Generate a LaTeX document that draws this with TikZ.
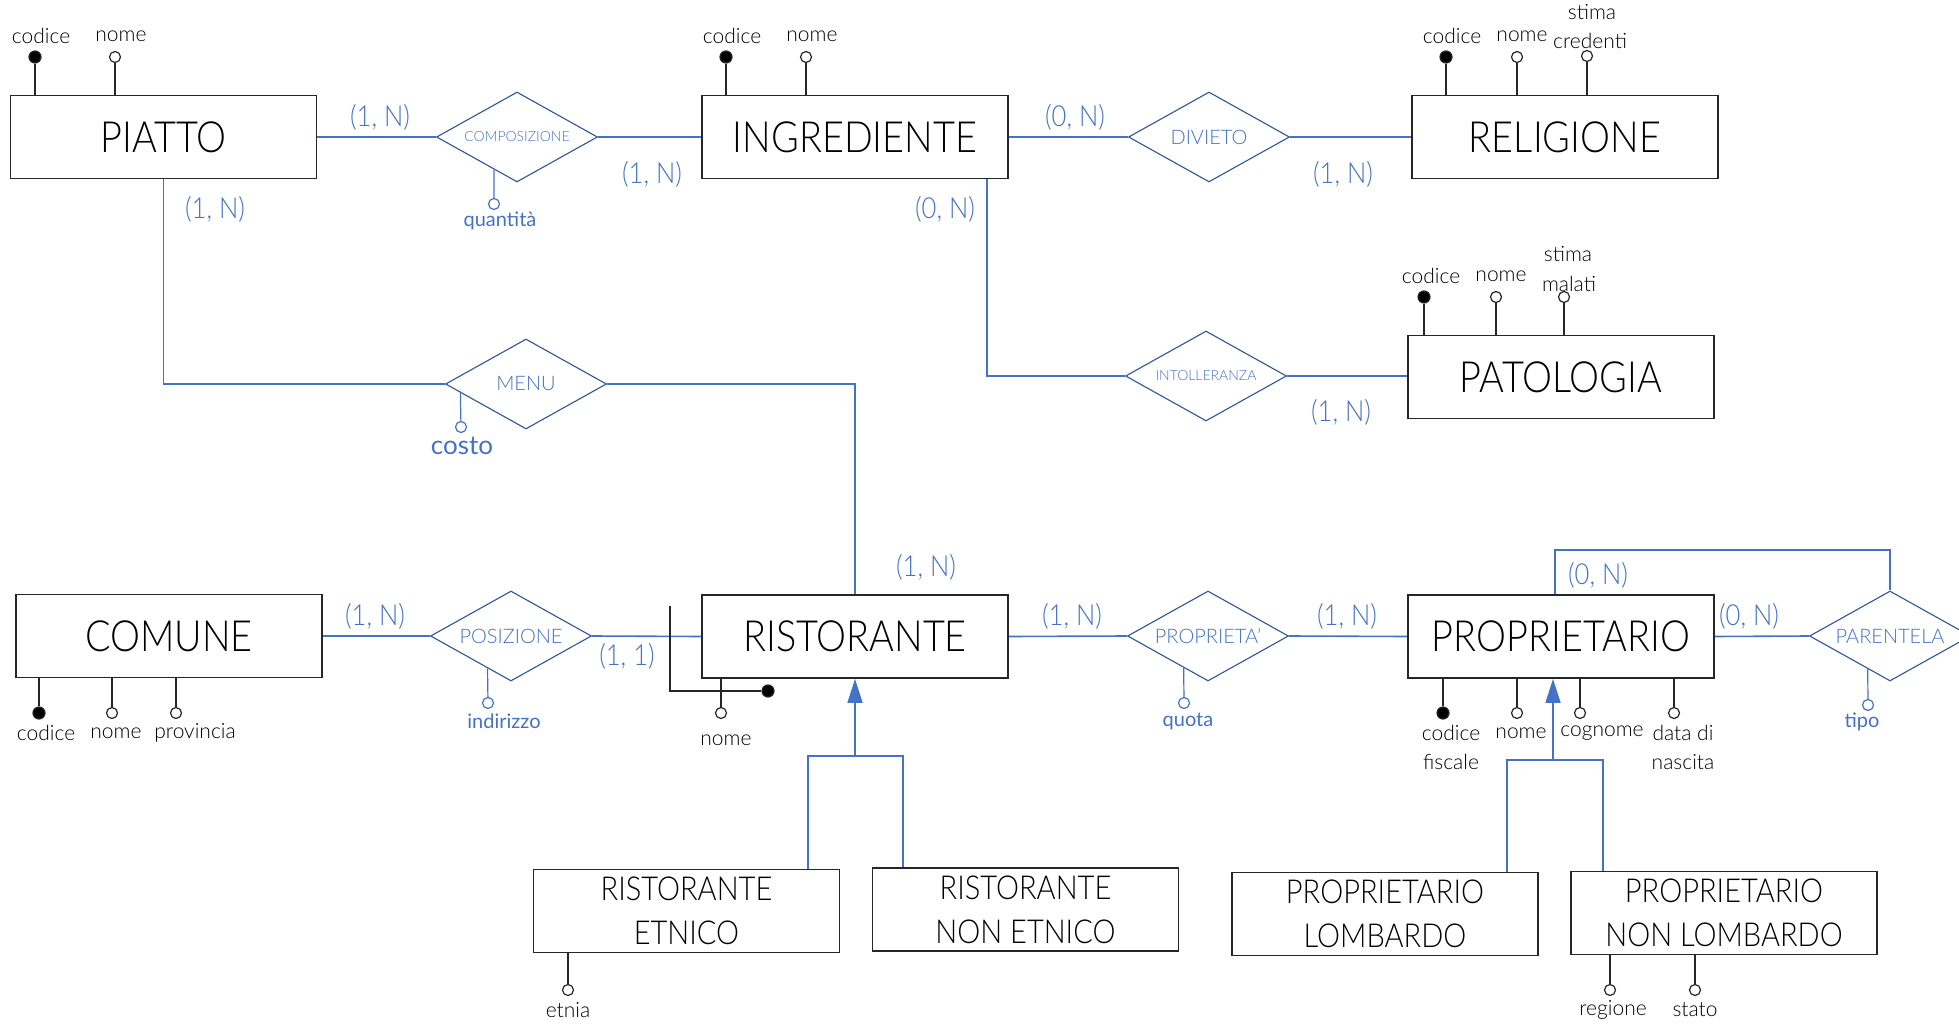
\documentclass[tikz,border=0pt]{standalone}
\usepackage{fontspec}
\setmainfont{Lato Light}
\newfontfamily\regfont{Lato}
\newfontfamily\condfont[FakeStretch=0.88]{Lato Light}
\usetikzlibrary{shapes.geometric,arrows.meta,calc}
\definecolor{erblue}{RGB}{68,114,196}
\definecolor{dblue}{RGB}{47,85,151}
\begin{document}
\begin{tikzpicture}[x=1pt,y=-1pt,
 ent/.style={draw=black!85, line width=1.8pt, minimum width=306pt, minimum height=83pt, inner sep=0, font=\condfont\fontsize{43}{47}\selectfont, text=black},
 sub/.style={ent, font=\condfont\fontsize{33}{44}\selectfont, align=center},
 rel/.style={diamond, shape aspect=1.78, draw=dblue, line width=1.1pt, minimum width=161pt, minimum height=90pt, inner sep=0, text=erblue, font=\fontsize{20}{22}\selectfont},
 lnk/.style={draw=erblue, line width=1.6pt},
 aline/.style={draw=black!85, line width=1.3pt},
 rline/.style={draw=erblue, line width=1.2pt},
 att/.style={circle, draw=black!85, line width=1.2pt, fill=white, minimum size=11pt, inner sep=0},
 key/.style={att, fill=black, minimum size=12pt},
 ratt/.style={att, draw=erblue},
 al/.style={text=black, font=\fontsize{21}{24}\selectfont, inner sep=0},
 ral/.style={text=erblue, font=\regfont\fontsize{20}{22}\selectfont, inner sep=0},
 card/.style={text=erblue, font=\condfont\fontsize{29}{32}\selectfont, inner sep=0},
]
\fill[white] (0,0) rectangle (1959,1024);
\useasboundingbox (0,0) rectangle (1959,1024);

% entities
\node[ent] (piatto) at (163.5,137) {PIATTO};
\node[ent] (ingred) at (855,137) {INGREDIENTE};
\node[ent] (relig) at (1565,137) {RELIGIONE};
\node[ent] (patol) at (1561,377) {PATOLOGIA};
\node[ent] (comune) at (169,636) {COMUNE};
\node[ent] (rist) at (855,636.5) {RISTORANTE};
\node[ent] (propr) at (1561,636.5) {PROPRIETARIO};
\node[sub] (re) at (686.5,911) {RISTORANTE\\ETNICO};
\node[sub] (rne) at (1025.5,909.5) {RISTORANTE\\NON ETNICO};
\node[sub] (pl) at (1385,914) {PROPRIETARIO\\LOMBARDO};
\node[sub] (pnl) at (1724,913) {PROPRIETARIO\\NON LOMBARDO};

% relationships
\node[rel, font=\fontsize{14}{16}\selectfont] (comp) at (517,137) {COMPOSIZIONE};
\node[rel] (div) at (1209,137) {DIVIETO};
\node[rel, font=\fontsize{14}{16}\selectfont] (intol) at (1206,376) {INTOLLERANZA};
\node[rel] (menu) at (526,384) {MENU};
\node[rel] (posiz) at (511,636) {POSIZIONE};
\node[rel] (propta) at (1208,636) {PROPRIETA'};
\node[rel] (parent) at (1890,636) {PARENTELA};

% connectors
\draw[lnk] (piatto.east) -- (comp.west);
\draw[lnk] (comp.east) -- (ingred.west);
\draw[lnk] (ingred.east) -- (div.west);
\draw[lnk] (div.east) -- (relig.west);
\coordinate (ingdrop) at ($(ingred.south)+(132,0)$);
\draw[lnk] (ingdrop) |- (intol.west);
\draw[lnk] (intol.east) -- (intol.east -| patol.west);
\draw[lnk] (piatto.south) |- (menu.west);
\draw[lnk] (menu.east) -| (rist.north);
\draw[lnk] (comune.east) -- (posiz.west);
\draw[lnk] (posiz.east) -- (rist.west);
\draw[lnk] (rist.east) -- (propta.west);
\draw[lnk] (propta.east) -- (propr.west);
\draw[lnk] (propr.east) -- (parent.west);
\coordinate (loopst) at ($(propr.north)+(-6,0)$);
\coordinate (looptop) at (1890,550);
\draw[lnk] (loopst) |- (looptop) -- (parent.north);

% generalizations
\coordinate (rg) at (855,756);
\coordinate (rgl) at (808,756);
\coordinate (rgr) at (903,756);
\draw[lnk, -{Triangle[length=24pt,width=15pt]}] (rg) -- (rist.south);
\draw[lnk] (re.north -| rgl) |- (rgr) -- (rgr |- rne.north);
\coordinate (pg) at (1553,760);
\coordinate (pgl) at (1507,760);
\coordinate (pgr) at (1603,760);
\draw[lnk, -{Triangle[length=24pt,width=15pt]}] (pg) -- (pg |- propr.south);
\draw[lnk] (pl.north -| pgl) |- (pgr) -- (pgr |- pnl.north);

% cardinalities
\node[card] (c1) at (380,117) {(1, N)};
\node[card] (c2) at (652,174) {(1, N)};
\node[card] (c3) at (215,209) {(1, N)};
\node[card] (c4) at (1075,117) {(0, N)};
\node[card] (c5) at (1343,174) {(1, N)};
\node[card] (c6) at (945,209) {(0, N)};
\node[card] (c7) at (1341,412) {(1, N)};
\node[card] (c8) at (926,567) {(1, N)};
\node[card] (c9) at (375,616) {(1, N)};
\node[card] (c10) at (627,656) {(1, 1)};
\node[card] (c11) at (1072,616) {(1, N)};
\node[card] (c12) at (1347,616) {(1, N)};
\node[card] (c13) at (1598,575) {(0, N)};
\node[card] (c14) at (1749,616) {(0, N)};

% relationship attributes
\node[ratt] (aquant) at (494,204) {};
\draw[rline] ($(comp.west)!0.716!(comp.south)$) -- (aquant);
\node[ral] (lquant) at (500,221) {quantità};
\node[ratt] (acosto) at (461,427) {};
\draw[rline] ($(menu.west)!0.19!(menu.south)$) -- (acosto);
\node[ral, font=\regfont\fontsize{26}{28}\selectfont] (lcosto) at (462,446) {costo};
\node[ratt] (aind) at (488,703) {};
\draw[rline] ($(posiz.west)!0.71!(posiz.south)$) -- (aind);
\node[ral] (lind) at (504,721) {indirizzo};
\node[ratt] (aquota) at (1184,703) {};
\draw[rline] ($(propta.west)!0.70!(propta.south)$) -- (aquota);
\node[ral] (lquota) at (1188,721) {quota};
\node[ratt] (atipo) at (1868,705) {};
\draw[rline] ($(parent.west)!0.725!(parent.south)$) -- (atipo);
\node[ral] (ltipo) at (1862,722) {tipo};

% PIATTO attributes
\node[key] (pcod) at (35,57) {};
\node[att] (pnom) at (115,57) {};
\draw[aline] (pcod) -- (pcod |- piatto.north);
\draw[aline] (pnom) -- (pnom |- piatto.north);
\node[al] at (41,36) {codice};
\node[al] at (121,36) {nome};

% INGREDIENTE attributes
\node[key] (icod) at (726,57) {};
\node[att] (inom) at (806,57) {};
\draw[aline] (icod) -- (icod |- ingred.north);
\draw[aline] (inom) -- (inom |- ingred.north);
\node[al] at (732,36) {codice};
\node[al] at (812,36) {nome};

% RELIGIONE attributes
\node[key] (gcod) at (1446,57) {};
\node[att] (gnom) at (1517,57) {};
\node[att] (gsti) at (1587,56) {};
\draw[aline] (gcod) -- (gcod |- relig.north);
\draw[aline] (gnom) -- (gnom |- relig.north);
\draw[aline] (gsti) -- (gsti |- relig.north);
\node[al] at (1452,36) {codice};
\node[al] at (1522,36) {nome};
\node[al] at (1592,12) {stima};
\node[al] at (1590,41) {credenti};

% PATOLOGIA attributes
\node[key] (tcod) at (1424,297) {};
\node[att] (tnom) at (1496,297) {};
\node[att] (tsti) at (1564,297) {};
\draw[aline] (tcod) -- (tcod |- patol.north);
\draw[aline] (tnom) -- (tnom |- patol.north);
\draw[aline] (tsti) -- (tsti |- patol.north);
\node[al] at (1431,276) {codice};
\node[al] at (1501,276) {nome};
\node[al] at (1568,254) {stima};
\node[al] at (1569,284) {malati};

% COMUNE attributes
\node[key] (mcod) at (39,713) {};
\node[att] (mnom) at (112,713) {};
\node[att] (mpro) at (176,713) {};
\draw[aline] (mcod) -- (mcod |- comune.south);
\draw[aline] (mnom) -- (mnom |- comune.south);
\draw[aline] (mpro) -- (mpro |- comune.south);
\node[al] at (46,733) {codice};
\node[al] at (116,733) {nome};
\node[al] at (195,733) {provincia};

% RISTORANTE attributes and composite identifier
\node[att] (rnom) at (721,713) {};
\draw[aline] (rnom) -- (rnom |- rist.south);
\node[al] at (726,740) {nome};
\coordinate (cid1) at (670,606);
\coordinate (cid2) at (670,691);
\node[key] (rkey) at (768,691) {};
\draw[draw=black!85, line width=1.8pt] (cid1) -- (cid2) -- (rkey);

% PROPRIETARIO attributes
\node[key] (ocf) at (1443,713) {};
\node[att] (onom) at (1517,713) {};
\node[att] (ocog) at (1580,713) {};
\node[att] (odat) at (1674,713) {};
\draw[aline] (ocf) -- (ocf |- propr.south);
\draw[aline] (onom) -- (onom |- propr.south);
\draw[aline] (ocog) -- (ocog |- propr.south);
\draw[aline] (odat) -- (odat |- propr.south);
\node[al] at (1451,733) {codice};
\node[al] at (1451,762) {fiscale};
\node[al] at (1521,733) {nome};
\node[al] at (1602,733) {cognome};
\node[al] at (1683,733) {data di};
\node[al] at (1683,762) {nascita};

% subentity attributes
\node[att] (eetn) at (568,990) {};
\draw[aline] (eetn) -- (eetn |- re.south);
\node[al] at (568,1010) {etnia};
\node[att] (nreg) at (1610,990) {};
\node[att] (nsta) at (1695,990) {};
\draw[aline] (nreg) -- (nreg |- pnl.south);
\draw[aline] (nsta) -- (nsta |- pnl.south);
\node[al] at (1613,1010) {regione};
\node[al] at (1695,1010) {stato};
\end{tikzpicture}
\end{document}
